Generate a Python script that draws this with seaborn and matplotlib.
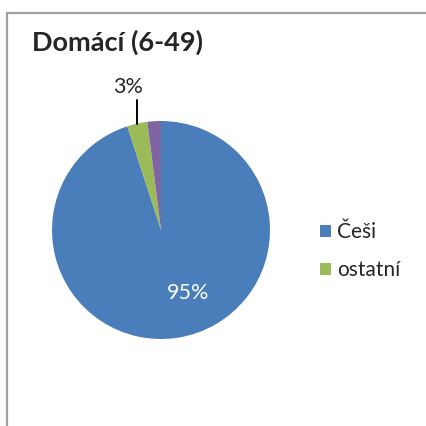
import numpy as np
import seaborn as sns
import matplotlib.pyplot as plt
from matplotlib.lines import Line2D
from matplotlib.patches import Patch

labels = ["Češi", "ostatní", ""]
values = [95, 3, 2]
colors = ["#4A7EBB", "#9BBB59", "#8064A2"]
shown = ["95%", "3%", ""]

sns.set_style("white")
plt.rcParams['font.family'] = ['Lato', 'DejaVu Sans']

fig = plt.figure(figsize=(4.26, 4.26), dpi=100)

# chart border (only top and left visible in the crop)
fig.add_artist(Line2D([0.016, 0.016], [0.0, 0.969], color="#A0A0A0", lw=1.6))
fig.add_artist(Line2D([0.016, 1.0], [0.969, 0.969], color="#A0A0A0", lw=1.6))

fig.text(0.075, 0.90, "Domácí (6-49)", fontsize=19.5, fontweight="bold", va="center")

ax = fig.add_axes([52 / 426, 87 / 426, 218 / 426, 218 / 426])
wedges, _ = ax.pie(values, colors=colors, startangle=90, counterclock=False,
                   radius=1.0, wedgeprops=dict(linewidth=0))
ax.set_xlim(-1, 1)
ax.set_ylim(-1, 1)
ax.set_aspect("equal")
ax.axis("off")

# 95% inside the big slice
ax.text(0.25, -0.58, shown[0], color="white", fontsize=15.5, ha="center", va="center")

# 3% outside with a leader line
w = wedges[1]
mid = np.deg2rad((w.theta1 + w.theta2) / 2)
x0, y0 = np.cos(mid), np.sin(mid)
ax.plot([x0, x0], [y0, 1.19], color="black", lw=1.4, clip_on=False)
ax.text(x0 - 0.08, 1.31, shown[1], fontsize=15.5, ha="center", va="center")

handles = [Patch(facecolor=colors[i], edgecolor="none") for i in range(2)]
fig.legend(handles, labels[:2], loc="center left", bbox_to_anchor=(0.732, 0.41),
           frameon=False, fontsize=15, handlelength=0.5, handleheight=0.5,
           handletextpad=0.3, labelspacing=0.87, borderaxespad=0)

fig.savefig("out.png", dpi=100)
